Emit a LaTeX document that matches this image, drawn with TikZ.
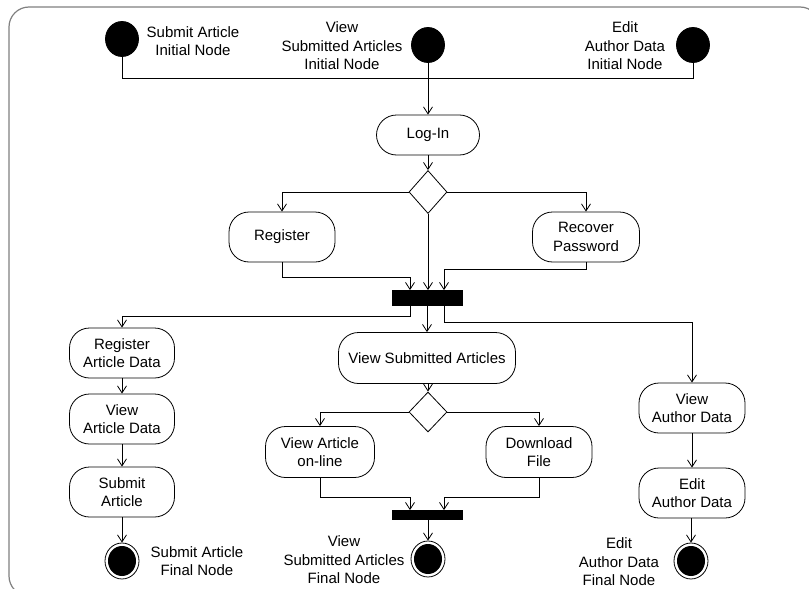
\documentclass[tikz,border=0pt]{standalone}
\usepackage{fontspec}
\setmainfont{Liberation Sans}
\usetikzlibrary{shapes.geometric,arrows.meta}

\tikzset{
  act/.style={draw, rounded corners=20pt, align=center, inner sep=2pt,
              minimum height=50pt, minimum width=106pt},
  initnode/.style={ellipse, draw, fill=black, minimum width=33pt, minimum height=35pt, inner sep=0pt},
  finalnode/.style={ellipse, draw, fill=white, minimum width=34pt, minimum height=36pt, inner sep=0pt,
              path picture={\fill[black] (path picture bounding box.center) ellipse (14pt and 15pt);}},
  syncbar/.style={draw, fill=black, minimum width=70pt, inner sep=0pt},
  decision/.style={diamond, draw, fill=white, minimum width=38pt, inner sep=0pt},
  flow/.style={draw, -{Straight Barb[length=7pt, width=9pt]}},
  wire/.style={draw},
  lbl/.style={align=center, inner sep=0pt},
}

\begin{document}
\begin{tikzpicture}[x=1pt, y=-1pt, line width=0.8pt,
  font=\fontsize{15}{18.5}\selectfont]
\useasboundingbox (0,0) rectangle (809,589);

% outer frame, running past the page edge on the right and bottom
\begin{scope}
  \clip (0,0) rectangle (809,589);
  \draw[gray, line width=1.2pt, rounded corners=20pt] (9,7) rectangle (820,596);
\end{scope}

% initial nodes
\node[initnode] (i1) at (122,39) {};
\node[initnode] (i2) at (428,45) {};
\node[initnode] (i3) at (693,45) {};
\node[lbl] (li1) at (193,41) {Submit Article\\Initial Node};
\node[lbl] (li2) at (342,46) {View\\Submitted Articles\\Initial Node};
\node[lbl] (li3) at (625,46) {Edit\\Author Data\\Initial Node};
\coordinate (merge) at (428,78);

% log-in and the first decision
\node[act, minimum width=103pt, minimum height=40pt] (login) at (428,135) {Log-In};
\node[decision, minimum height=43pt] (d1) at (428,192) {};
\node[act] (reg) at (282,237) {Register};
\node[act, minimum width=107pt] (rec) at (586,237) {Recover\\Password};
\node[syncbar, minimum height=15pt] (bar1) at (427,298) {};

% the three branches
\node[act, minimum width=105pt] (rad) at (122,353) {Register\\Article Data};
\node[act, minimum width=105pt] (vad) at (122,419) {View\\Article Data};
\node[act, minimum width=105pt] (sub) at (122,492) {Submit\\Article};
\node[finalnode] (f1) at (122,561) {};
\node[lbl] (lf1) at (197,561) {Submit Article\\Final Node};

\node[act, minimum width=177pt, minimum height=51pt] (vsa) at (427,358) {View Submitted Articles};
\node[decision, minimum height=40pt] (d2) at (428,412) {};
\node[act, minimum width=109pt, minimum height=51pt] (vao) at (320,452) {View Article\\on-line};
\node[act, minimum height=51pt] (dl) at (539,452) {Download\\File};
\node[syncbar, minimum height=9pt] (bar2) at (427,515) {};
\node[finalnode] (f2) at (428,559) {};
\node[lbl] (lf2) at (344,560) {View\\Submitted Articles\\Final Node};

\node[act] (vaud) at (692,408) {View\\Author Data};
\node[act] (eaud) at (692,493) {Edit\\Author Data};
\node[finalnode] (f3) at (691,561) {};
\node[lbl] (lf3) at (619,562) {Edit\\Author Data\\Final Node};

% connectors
\draw[wire] (i1) |- (merge);
\draw[wire] (i3) |- (merge);
\draw[flow] (i2) -- (login);
\draw[flow] (login) -- (d1);
\draw[flow] (d1.west) -| (reg.north);
\draw[flow] (d1.east) -| (rec.north);
\draw[flow] (d1.south) -- (d1.south |- bar1.north);
\draw[flow] (reg.south) -- ++(0,15) -| ([xshift=-17pt]bar1.north);
\draw[flow] (rec.south) -- ++(0,7) -| ([xshift=17pt]bar1.north);

\draw[flow] ([xshift=-17pt]bar1.south) -- ++(0,10) -| (rad.north);
\draw[flow] (bar1.south) -- (vsa.north);
\draw[flow] ([xshift=17pt]bar1.south) -- ++(0,16) -| (vaud.north);

\draw[flow] (rad) -- (vad);
\draw[flow] (vad) -- (sub);
\draw[flow] (sub) -- (f1);

\draw[flow] (vsa.south -| d2.north) -- (d2.north);
\draw[flow] (d2.west) -| (vao.north);
\draw[flow] (d2.east) -| (dl.north);
\draw[flow] (vao.south) -- ++(0,19) -| ([xshift=-17pt]bar2.north);
\draw[flow] (dl.south) -- ++(0,19) -| ([xshift=17pt]bar2.north);
\draw[flow] (bar2.south -| f2.north) -- (f2.north);

\draw[flow] (vaud) -- (eaud);
\draw[flow] (eaud.south -| f3.north) -- (f3.north);
\end{tikzpicture}
\end{document}
